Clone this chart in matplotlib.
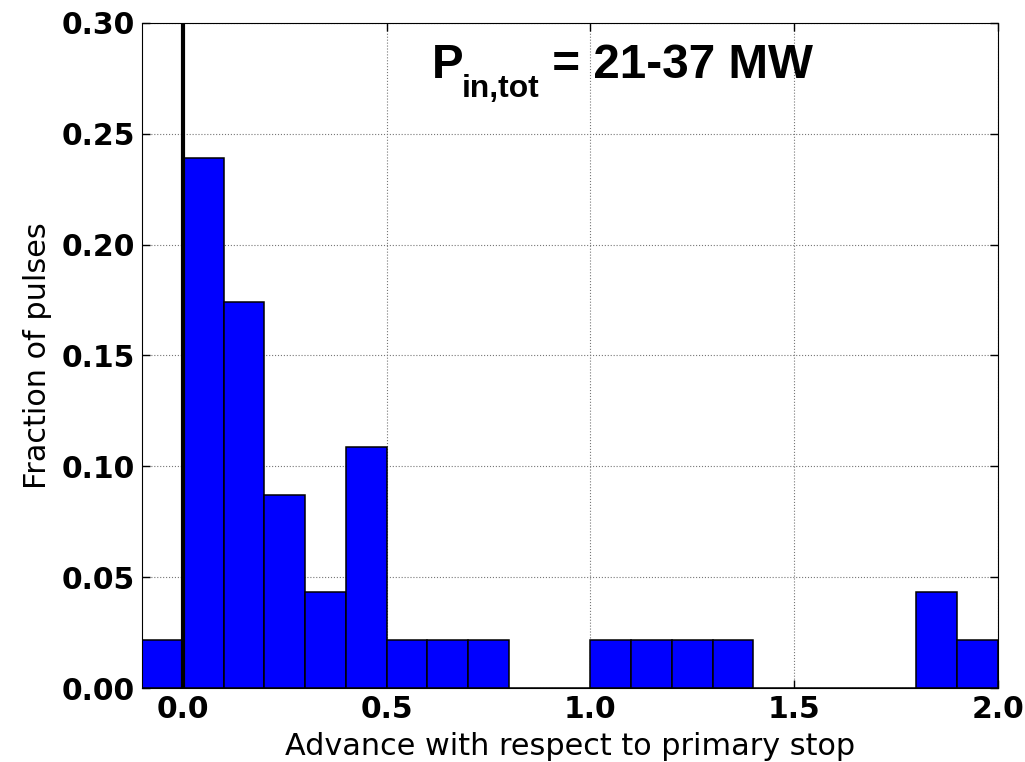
import numpy as np
import matplotlib
matplotlib.use('Agg')
import matplotlib.pyplot as plt

# bin left edges and fractions
bin_left = np.round(np.arange(-0.1, 2.0, 0.1), 2)
counts = [1, 11, 8, 4, 2, 5, 1, 1, 1, 0, 0, 1, 1, 1, 1, 0, 0, 0, 0, 2, 1]
frac = np.array(counts) / 46.0

xticks = [0.0, 0.5, 1.0, 1.5, 2.0]
yticks = [0.00, 0.05, 0.10, 0.15, 0.20, 0.25, 0.30]

W, H = 1025, 762
fig = plt.figure(figsize=(W / 100, H / 100), dpi=100)
ax = fig.add_axes([142 / W, 1 - 688 / H, 856 / W, 665 / H])

ax.bar(bin_left, frac, width=0.1, align='edge', color='#0000ff',
       edgecolor='black', linewidth=1.1, zorder=2)
ax.axvline(0.0, color='black', linewidth=3, zorder=3)

ax.set_xlim(-0.1, 2.0)
ax.set_ylim(0, 0.30)
ax.set_xticks(xticks)
ax.set_yticks(yticks)
ax.set_xticklabels(['%.1f' % t for t in xticks], fontsize=21.5, fontweight='bold')
ax.set_yticklabels(['%.2f' % t for t in yticks], fontsize=21.5, fontweight='bold')
ax.tick_params(direction='in', length=6, width=1, top=True, right=True, pad=5)
ax.grid(True, linestyle=':', color='#777777', linewidth=0.8, zorder=0)
ax.set_axisbelow(True)

ax.set_xlabel('Advance with respect to primary stop', fontsize=21.8, labelpad=5.5)
ax.set_ylabel('Fraction of pulses', fontsize=21.8, labelpad=7)

# annotation built from pieces: P, subscript, rest
base = 1 - 78 / H
kw = dict(fontweight='bold', family='Liberation Sans', ha='left', va='baseline')
fig.text(432 / W, base, 'P', fontsize=34.3, **kw)
fig.text(462 / W, 1 - 97 / H, 'in,tot', fontsize=22.9, **kw)
fig.text(539 / W, base, ' = 21-37 MW', fontsize=34.3, **kw)

fig.savefig('out.png', dpi=100)
